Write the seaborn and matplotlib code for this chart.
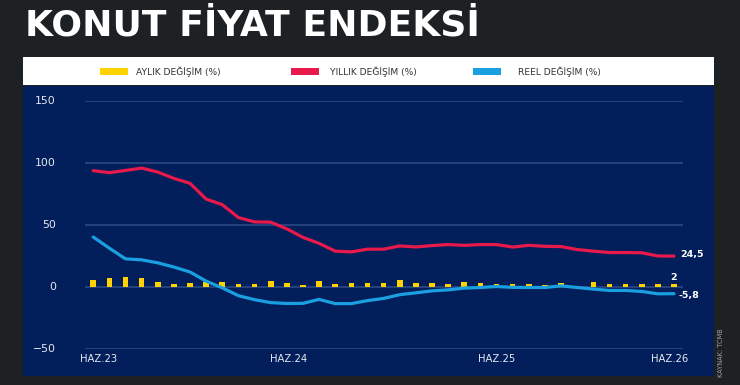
import numpy as np
import pandas as pd
import matplotlib
matplotlib.use("Agg")
import matplotlib.pyplot as plt
from matplotlib.patches import Rectangle
import seaborn as sns

# monthly points, HAZ.23 -> HAZ.26
aylik = [5.5, 7.0, 7.3, 7.0, 3.3, 2.0, 2.5, 3.9, 3.9, 2.0, 2.0, 4.4, 2.5, 1.5, 4.1, 1.7,
         2.5, 3.1, 2.5, 4.9, 3.1, 2.5, 2.0, 3.9, 2.5, 1.7, 2.3, 1.7, 1.5, 2.5, 0.0, 3.9,
         1.7, 2.0, 1.7, 1.7, 2.0]
yillik = [93.4, 91.8, 93.6, 95.5, 92.3, 87.2, 83.2, 70.5, 66.0, 55.6, 52.1, 51.9, 46.5,
          39.6, 34.8, 28.5, 27.9, 30.1, 30.1, 32.7, 31.9, 33.0, 33.8, 33.2, 33.8, 33.8,
          31.8, 33.2, 32.4, 32.2, 29.8, 28.5, 27.4, 27.4, 27.2, 24.6, 24.5]
reel = [39.9, 30.9, 22.3, 21.5, 19.1, 15.7, 11.7, 4.3, -1.1, -7.4, -10.6, -13.0, -13.7,
        -13.6, -10.4, -13.8, -13.8, -11.4, -9.6, -6.6, -5.1, -3.5, -2.7, -1.3, -0.8, 0.0,
        -0.7, -0.8, -0.8, 0.5, -0.8, -2.1, -3.2, -3.2, -4.0, -5.9, -5.8]
tick_labels = ["HAZ.23", "HAZ.24", "HAZ.25", "HAZ.26"]
legend_labels = ["AYLIK DEĞİŞİM (%)", "YILLIK DEĞİŞİM (%)", "REEL DEĞİŞİM (%)"]
end_labels = ["2", "24,5", "-5,8"]

df = pd.DataFrame({"ay": np.arange(len(aylik)), "aylik": aylik,
                   "yillik": yillik, "reel": reel})

YELLOW, RED, BLUE = "#ffd200", "#e8194b", "#1a9fe0"
NAVY, DARK = "#021e5b", "#1e2124"
GRID = "#304c88"

sns.set_theme(style="white")
plt.rcParams["font.family"] = ["DejaVu Sans"]

W, H = 740, 385
fig = plt.figure(figsize=(W / 100, H / 100), dpi=100, facecolor=DARK)


def fx(px):
    return px / W


def fy(py):
    return 1 - py / H


# navy panel and white legend band
fig.add_artist(Rectangle((fx(23), fy(375.7)), fx(714) - fx(23), (375.7 - 86) / H,
                         transform=fig.transFigure, facecolor=NAVY, edgecolor="none", zorder=0))
fig.add_artist(Rectangle((fx(23), fy(85)), fx(714) - fx(23), 28 / H,
                         transform=fig.transFigure, facecolor="white", edgecolor="none", zorder=0))

fig.text(fx(25), fy(36), "KONUT FİYAT ENDEKSİ", color="white", fontsize=26,
         fontweight="heavy", ha="left", va="baseline")

for (x0, tx), lab, col in zip([(100, 136.5), (291, 330), (473, 518)], legend_labels,
                              [YELLOW, RED, BLUE]):
    fig.add_artist(Rectangle((fx(x0), fy(74.5)), 28 / W, 6.5 / H, transform=fig.transFigure,
                             facecolor=col, edgecolor="none"))
    fig.text(fx(tx), fy(71.3), lab, color="#333333", fontsize=6.6, ha="left", va="center")

fig.text(fx(721), fy(377), "KAYNAK: TCMB", color="#9a9ea5", fontsize=4.8,
         rotation=90, ha="center", va="bottom")

ax = fig.add_axes([fx(85), fy(348.5), fx(682.7) - fx(85), (348.5 - 100.5) / H])
ax.set_facecolor("none")

sns.barplot(data=df, x="ay", y="aylik", native_scale=True, width=0.35, color=YELLOW,
            saturation=1, linewidth=0, edgecolor="none", ax=ax, zorder=3)
sns.lineplot(data=df, x="ay", y="yillik", color=RED, linewidth=2.3, ax=ax, zorder=4)
sns.lineplot(data=df, x="ay", y="reel", color=BLUE, linewidth=2.3, ax=ax, zorder=4)

ax.set_xlim(-0.51, 36.54)
ax.set_ylim(-50, 150)
ax.set_yticks([-50, 0, 50, 100, 150])
ax.set_xticks([0.3, 12.1, 25, 35.7])
ax.set_xticklabels(tick_labels)
ax.grid(axis="y", color=GRID, linewidth=1.1, zorder=1)
ax.grid(axis="x", visible=False)
ax.set_axisbelow(True)
for s in ax.spines.values():
    s.set_visible(False)
ax.set_xlabel("")
ax.set_ylabel("")
ax.tick_params(axis="y", length=0, pad=21, labelsize=7.8, labelcolor="#e6e9f0")
ax.tick_params(axis="x", length=0, pad=4, labelsize=7.2, labelcolor="#e6e9f0")

last = df.iloc[-1]
ax.annotate(end_labels[0], xy=(last["ay"], last["aylik"]), xytext=(0, 5),
            textcoords="offset points", ha="center", va="center", color="white",
            fontsize=6.8, fontweight="bold")
ax.annotate(end_labels[1], xy=(last["ay"], last["yillik"]), xytext=(4.5, 1.5),
            textcoords="offset points", ha="left", va="center", color="white",
            fontsize=6.8, fontweight="bold")
ax.annotate(end_labels[2], xy=(last["ay"], last["reel"]), xytext=(3, -1),
            textcoords="offset points", ha="left", va="center", color="white",
            fontsize=6.8, fontweight="bold")

fig.savefig("out.png", dpi=100, facecolor=DARK)
